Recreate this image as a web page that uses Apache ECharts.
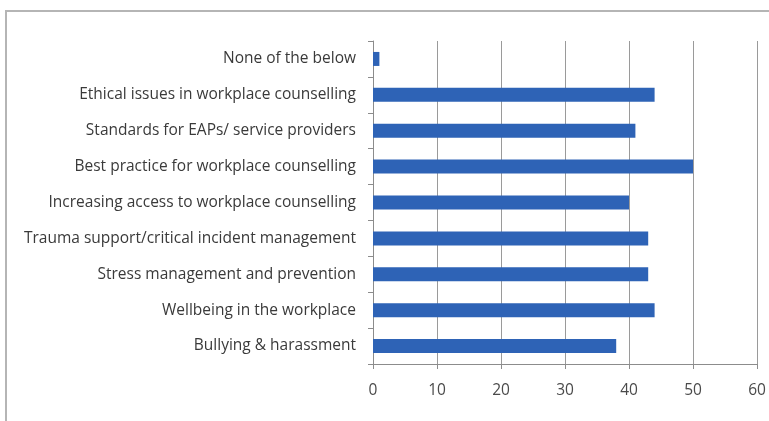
<!DOCTYPE html>
<html>
<head>
<meta charset="utf-8">
<script src="https://cdn.jsdelivr.net/npm/echarts@6/dist/echarts.min.js"></script>
<style>
  html, body { margin: 0; padding: 0; background: #fff; }
  #frame { position: absolute; left: 5px; top: 10px; width: 800px; height: 500px;
           border-top: 2px solid #b5b5b5; border-left: 2px solid #b5b5b5; }
  #chart { position: absolute; left: 0; top: 0; width: 769px; height: 421px; }
</style>
</head>
<body>
<div id="frame"></div>
<div id="chart"></div>
<script>
// Topics, listed bottom to top as they appear on the axis
const categories = [
  'Bullying & harassment',
  'Wellbeing in the workplace',
  'Stress management and prevention',
  'Trauma support/critical incident management',
  'Increasing access to workplace counselling',
  'Best practice for workplace counselling',
  'Standards for EAPs/ service providers',
  'Ethical issues in workplace counselling',
  'None of the below'
];
const values = [38, 44, 43, 43, 40, 50, 41, 44, 1];
const xTicks = { min: 0, max: 60, interval: 10 };

const chart = echarts.init(document.getElementById('chart'), null, { renderer: 'canvas' });
chart.setOption({
  animation: false,
  grid: { left: 373, right: 12, top: 41, bottom: 57 },
  xAxis: {
    type: 'value',
    min: xTicks.min, max: xTicks.max, interval: xTicks.interval,
    axisLine: { show: true, lineStyle: { color: '#8c8c8c', width: 1 } },
    axisTick: { show: true, length: 5, lineStyle: { color: '#8c8c8c' } },
    splitLine: { show: true, lineStyle: { color: '#9a9a9a', width: 1 } },
    axisLabel: { color: '#4a4a4a', fontFamily: 'Open Sans', fontSize: 15.5, margin: 19 }
  },
  yAxis: {
    type: 'category',
    data: categories,
    axisLine: { show: true, lineStyle: { color: '#8c8c8c', width: 1 } },
    axisTick: { show: true, length: 5, lineStyle: { color: '#8c8c8c' } },
    axisLabel: { color: '#3a3a3a', fontFamily: 'Open Sans', fontSize: 15.5, margin: 17 }
  },
  series: [{
    type: 'bar',
    data: values,
    barWidth: 14,
    itemStyle: { color: '#2E63B6' }
  }]
});
</script>
</body>
</html>
